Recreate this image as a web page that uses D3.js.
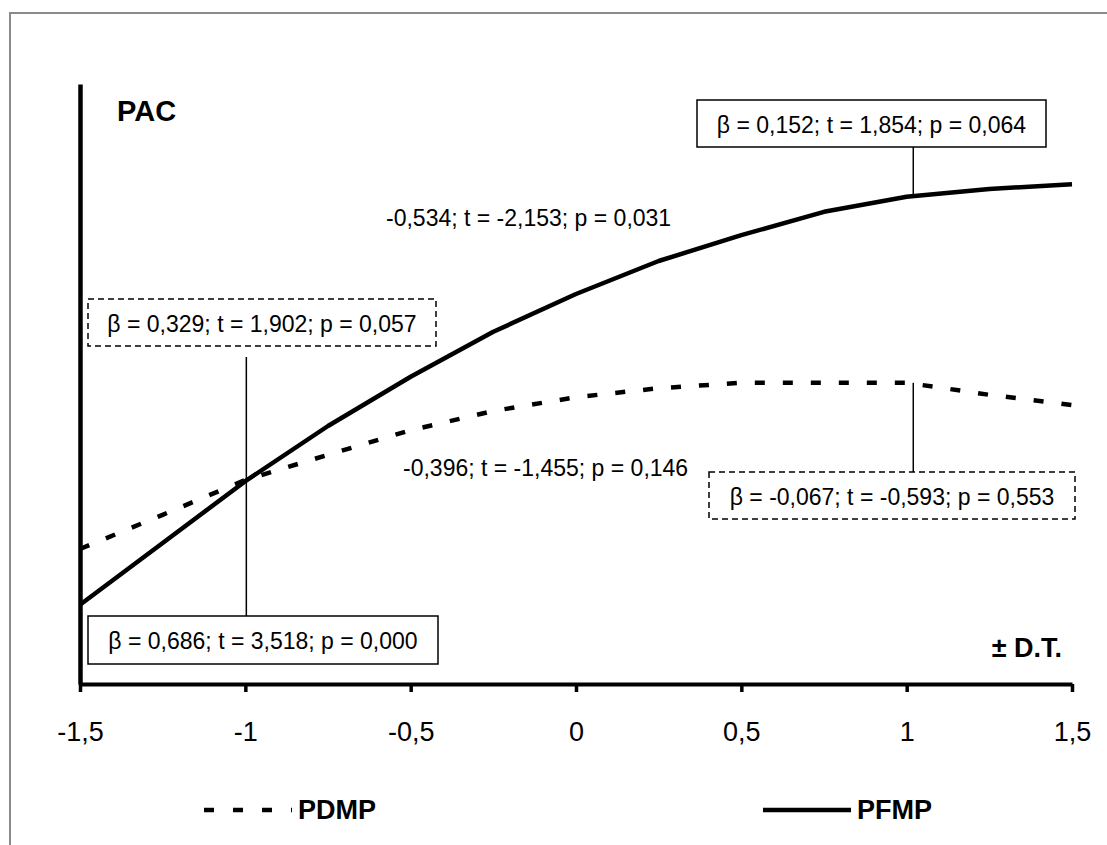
<!DOCTYPE html>
<html>
<head>
<meta charset="utf-8">
<script src="https://cdn.jsdelivr.net/npm/d3@7"></script>
<style>
  html, body { margin: 0; padding: 0; background: #fff; }
  svg { display: block; }
  text { font-family: "Liberation Sans", Arial, sans-serif; fill: #000; }
</style>
</head>
<body>
<svg id="chart" width="1107" height="845"></svg>
<script>
// ---- data ----
const xValues = [-1.5, -1.25, -1, -0.75, -0.5, -0.25, 0, 0.25, 0.5, 0.75, 1, 1.25, 1.5];
const pfmpValues = [1.32, 2.35, 3.38, 4.30, 5.12, 5.87, 6.50, 7.05, 7.48, 7.87, 8.12, 8.25, 8.33];
const pdmpValues = [2.25, 2.82, 3.40, 3.82, 4.23, 4.55, 4.78, 4.93, 5.02, 5.02, 5.02, 4.82, 4.65];
const tickValues = [-1.5, -1, -0.5, 0, 0.5, 1, 1.5];
const tickLabels = ["-1,5", "-1", "-0,5", "0", "0,5", "1", "1,5"];
const seriesNames = ["PDMP", "PFMP"];
const yAxisTitle = "PAC";
const xAxisTitle = "± D.T.";
const boxTexts = [
  "β = 0,152; t = 1,854; p = 0,064",
  "β = 0,329; t = 1,902; p = 0,057",
  "β = 0,686; t = 3,518; p = 0,000",
  "β = -0,067; t = -0,593; p = 0,553"
];
const freeTexts = [
  "-0,534; t = -2,153; p = 0,031",
  "-0,396; t = -1,455; p = 0,146"
];

// ---- chart ----
const svg = d3.select("#chart");
const x = d3.scaleLinear().domain([-1.5, 1.5]).range([80, 1072]);
const y = d3.scaleLinear().domain([0, 10]).range([684, 84]);

// outer frame
svg.append("rect")
  .attr("x", 10).attr("y", 13).attr("width", 1300).attr("height", 1000)
  .attr("fill", "none").attr("stroke", "#8a8a8a").attr("stroke-width", 2);

// axes
const xAxis = d3.axisBottom(x)
  .tickValues(tickValues)
  .tickFormat((d, i) => tickLabels[i])
  .tickSizeInner(8).tickSizeOuter(0).tickPadding(30);
const gx = svg.append("g").attr("transform", `translate(0,${y(0)})`).call(xAxis);
gx.select(".domain").attr("stroke", "#000").attr("stroke-width", 4);
gx.selectAll(".tick line").attr("stroke", "#000").attr("stroke-width", 3.5);
gx.selectAll(".tick text")
  .style("font-family", '"Liberation Sans", Arial, sans-serif')
  .style("font-size", "27px").attr("fill", "#000");

const yAxis = d3.axisLeft(y).tickValues([]).tickSizeOuter(0);
const gy = svg.append("g").attr("transform", `translate(${x(-1.5)},0)`).call(yAxis);
gy.select(".domain").attr("stroke", "#000").attr("stroke-width", 4.5);

// series lines
const line = d3.line().x((d, i) => x(xValues[i])).y(d => y(d)).curve(d3.curveLinear);
svg.append("path").datum(pdmpValues)
  .attr("d", line).attr("fill", "none").attr("stroke", "#000")
  .attr("stroke-width", 4.5).attr("stroke-dasharray", "10,18");
svg.append("path").datum(pfmpValues)
  .attr("d", line).attr("fill", "none").attr("stroke", "#000")
  .attr("stroke-width", 4.5).attr("stroke-linejoin", "round");

// axis titles
svg.append("text").attr("x", 117).attr("y", 111)
  .attr("dominant-baseline", "central")
  .style("font-size", "29px").style("font-weight", "bold").text(yAxisTitle);
svg.append("text").attr("x", 1062).attr("y", 648)
  .attr("text-anchor", "end").attr("dominant-baseline", "central")
  .style("font-size", "27px").style("font-weight", "bold").text(xAxisTitle);

// annotation boxes
const boxes = [
  { x0: 697, y0: 100, x1: 1046, y1: 147, dashed: false, text: boxTexts[0] },
  { x0: 88,  y0: 299, x1: 436,  y1: 346, dashed: true,  text: boxTexts[1] },
  { x0: 88,  y0: 616, x1: 438,  y1: 664, dashed: false, text: boxTexts[2] },
  { x0: 709, y0: 472, x1: 1075, y1: 519, dashed: true,  text: boxTexts[3] }
];

// connector lines
const ia = xValues.indexOf(1);
const connectors = [
  { x: x(1.02), y0: 147, y1: y(pfmpValues[ia]) },
  { x: x(-1) + 1, y0: 357, y1: 616 },
  { x: x(1.02), y0: y(pdmpValues[ia]), y1: 472 }
];
svg.selectAll("line.conn").data(connectors).enter().append("line")
  .attr("class", "conn")
  .attr("x1", d => d.x).attr("x2", d => d.x)
  .attr("y1", d => d.y0).attr("y2", d => d.y1)
  .attr("stroke", "#000").attr("stroke-width", 1.5);

const bg = svg.selectAll("g.box").data(boxes).enter().append("g").attr("class", "box");
bg.append("rect")
  .attr("x", d => d.x0).attr("y", d => d.y0)
  .attr("width", d => d.x1 - d.x0).attr("height", d => d.y1 - d.y0)
  .attr("fill", "#fff").attr("stroke", "#000").attr("stroke-width", 1.5)
  .attr("stroke-dasharray", d => d.dashed ? "6,4" : null);
bg.append("text")
  .attr("x", d => (d.x0 + d.x1) / 2).attr("y", d => (d.y0 + d.y1) / 2 + 1)
  .attr("text-anchor", "middle").attr("dominant-baseline", "central")
  .style("font-size", "23px").text(d => d.text);

// free texts
const frees = [
  { x: 386, y: 218, text: freeTexts[0] },
  { x: 403, y: 468, text: freeTexts[1] }
];
svg.selectAll("text.free").data(frees).enter().append("text")
  .attr("class", "free")
  .attr("x", d => d.x).attr("y", d => d.y)
  .attr("dominant-baseline", "central")
  .style("font-size", "23px").text(d => d.text);

// legend
const legend = [
  { x0: 204, x1: 292, tx: 298, dash: "10,19", name: seriesNames[0] },
  { x0: 763, x1: 851, tx: 857, dash: null, name: seriesNames[1] }
];
const lg = svg.selectAll("g.legend").data(legend).enter().append("g").attr("class", "legend");
lg.append("line")
  .attr("x1", d => d.x0).attr("x2", d => d.x1)
  .attr("y1", 810).attr("y2", 810)
  .attr("stroke", "#000").attr("stroke-width", 4.5)
  .attr("stroke-dasharray", d => d.dash);
lg.append("text")
  .attr("x", d => d.tx).attr("y", 810)
  .attr("dominant-baseline", "central")
  .style("font-size", "27px").style("font-weight", "bold")
  .text(d => d.name);
</script>
</body>
</html>
